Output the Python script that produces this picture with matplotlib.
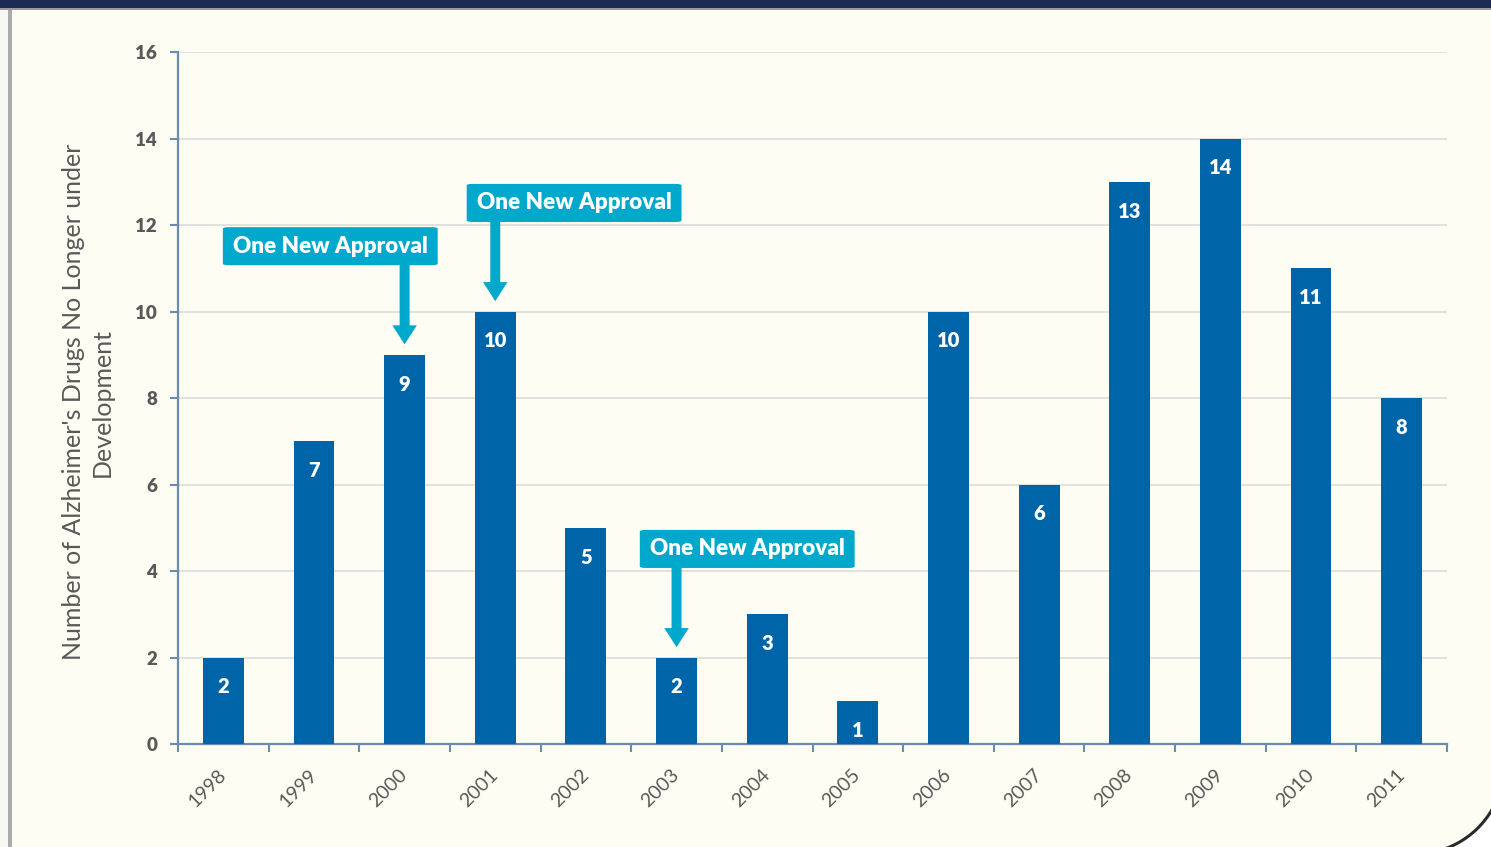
"""
Alzheimer's drugs no longer under development, 1998-2011, with approval callouts.
"""
import matplotlib
matplotlib.use("Agg")
import matplotlib.pyplot as plt
import numpy as np
from matplotlib.patches import FancyBboxPatch, Rectangle, Polygon
from matplotlib.transforms import IdentityTransform, ScaledTranslation

years = ["1998", "1999", "2000", "2001", "2002", "2003", "2004",
         "2005", "2006", "2007", "2008", "2009", "2010", "2011"]
dropped = [2, 7, 9, 10, 5, 2, 3, 1, 10, 6, 13, 14, 11, 8]
approval_years = ["2000", "2001", "2003"]
approval_text = "One New Approval"
y_label = "Number of Alzheimer's Drugs No Longer under\nDevelopment"
y_ticks = [0, 2, 4, 6, 8, 10, 12, 14, 16]

# horizontal offset of each callout box centre from its bar (layout only)
box_dx = {"2000": -0.82, "2001": 0.87, "2003": 0.78}

BG = "#fdfdf3"
BAR = "#0064a9"
CALLOUT = "#00a9cc"
SPINE = "#6a8bb2"
TEXT = "#595959"

W, H = 1491, 847
plt.rcParams["font.family"] = ["Lato", "DejaVu Sans"]

fig = plt.figure(figsize=(W / 100, H / 100), dpi=100, facecolor=BG)

# page decoration: navy band on top, grey frame on the left, rounded corner
fig.patches.append(Rectangle((0, 1 - 8 / H), 1, 8 / H, transform=fig.transFigure,
                             facecolor="#1b2a52", edgecolor="none", zorder=0))
fig.patches.append(Rectangle((0, 1 - 10 / H), 1, 2 / H, transform=fig.transFigure,
                             facecolor="#9a9a9a", edgecolor="none", zorder=0))
fig.patches.append(Rectangle((0, 0), 8 / W, 1 - 10 / H, transform=fig.transFigure,
                             facecolor="#f7f7f3", edgecolor="none", zorder=0))
fig.patches.append(Rectangle((8 / W, 0), 4 / W, 1 - 10 / H, transform=fig.transFigure,
                             facecolor="#ababab", edgecolor="none", zorder=0))
cx, cy, r = 1415, H - 765, 89
theta = np.linspace(-np.pi / 2, 0, 60)
arc_x = cx + r * np.cos(theta)
arc_y = cy + r * np.sin(theta)
corner = np.column_stack([np.r_[arc_x, W + 5, W + 5], np.r_[arc_y, cy, -5]])
fig.patches.append(Polygon(corner, closed=True, transform=IdentityTransform(),
                           facecolor="white", edgecolor="none", zorder=1))
fig.lines.append(plt.Line2D(arc_x, arc_y, transform=IdentityTransform(),
                            color="#2a2a2a", lw=2.2, zorder=2))

ax = fig.add_axes([178 / W, 1 - 744 / H, (1447 - 178) / W, (744 - 52) / H])
ax.set_facecolor(BG)

x = np.arange(len(years))
ax.bar(x, dropped, width=0.45, color=BAR, zorder=3)
for xi, v in zip(x, dropped):
    ax.text(xi, v - 0.68, str(v), ha="center", va="center", color="white",
            fontsize=14.5, fontweight="heavy", zorder=4)

for yr in approval_years:
    i = years.index(yr)
    v = dropped[i]
    bw, bh = 2.37, 0.88
    bx = i + box_dx[yr]
    by = v + 2.51
    ax.add_patch(FancyBboxPatch((bx - bw / 2, by - bh / 2), bw, bh,
                                boxstyle="round,pad=0,rounding_size=0.07",
                                mutation_aspect=0.5, facecolor=CALLOUT,
                                edgecolor="none", zorder=5))
    ax.text(bx, by, approval_text, ha="center", va="center", color="white",
            fontsize=16.2, fontweight="heavy", zorder=6)
    ax.arrow(i, v + 2.1, 0, -(2.1 - 0.24), width=0.11, head_width=0.27,
             head_length=0.44, length_includes_head=True, color=CALLOUT,
             lw=0, zorder=5)

ax.set_xlim(-0.5, len(years) - 0.5)
ax.set_ylim(0, 16)
ax.set_yticks(y_ticks)
ax.set_yticklabels([str(t) for t in y_ticks], fontsize=13.5, fontweight="heavy", color=TEXT)
ax.set_xticks(x)
ax.set_xticklabels(years, rotation=45, ha="right", fontsize=14, color=TEXT)
ax.set_xticks(np.arange(-0.5, len(years)), minor=True)
ax.tick_params(axis="x", which="major", length=0, pad=16)
ax.tick_params(axis="x", which="minor", length=6, width=1.5, color=SPINE, direction="out")
ax.tick_params(axis="y", length=6, width=1.5, color=SPINE, pad=9)
shift = ScaledTranslation(6 / 100, 0, fig.dpi_scale_trans)
for lbl in ax.get_xticklabels():
    lbl.set_transform(lbl.get_transform() + shift)

ax.grid(True, axis="y", color="#dcdcdc", lw=1.2, zorder=0)
ax.set_axisbelow(True)
for side in ("top", "right"):
    ax.spines[side].set_visible(False)
for side in ("left", "bottom"):
    ax.spines[side].set_color(SPINE)
    ax.spines[side].set_linewidth(1.6)

fig.text(88 / W, 1 - 402 / H, y_label, rotation=90, ha="center", va="center",
         multialignment="center", fontsize=18, linespacing=1.3, color=TEXT)

fig.savefig("out.png", dpi=100, facecolor=BG)
